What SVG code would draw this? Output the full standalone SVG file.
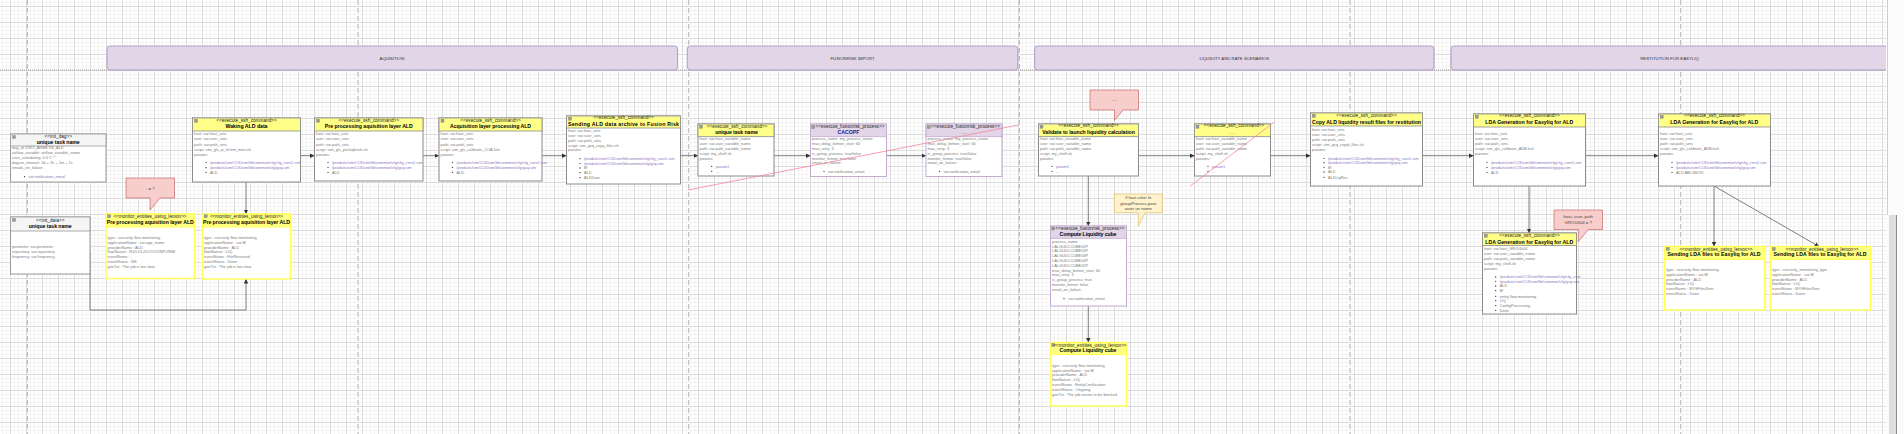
<svg xmlns="http://www.w3.org/2000/svg" width="1904" height="434" viewBox="0 0 1904 434">
<defs>
<pattern id="grid" x="10" y="6" width="16" height="16" patternUnits="userSpaceOnUse">
<rect width="16" height="16" fill="#fff"/>
<path d="M4.5 0V16M8.5 0V16M12.5 0V16M0 4.5H16M0 8.5H16M0 12.5H16" stroke="#f3f3f3" stroke-width="1"/>
<path d="M0.5 0V16M0 0.5H16" stroke="#dcdcdc" stroke-width="1"/>
</pattern>
<marker id="ar" viewBox="0 0 6 6" refX="6" refY="3" markerWidth="4.5" markerHeight="4.5" markerUnits="userSpaceOnUse" orient="auto">
<path d="M0,0 L6,3 L0,6 z" fill="#333"/>
</marker>
<style>
text{font-family:"Liberation Sans",Arial,sans-serif}
.st{font-size:4.7px;fill:#222;text-anchor:middle}
.tt{font-size:5.2px;font-weight:bold;fill:#000;text-anchor:middle}
.bd{font-size:3.9px;fill:#7a7a7a}
.bl{font-size:3.9px;fill:#8b74b5}
.hd{font-size:4.3px;fill:#333;text-anchor:middle}
.co{font-size:4.3px;fill:#444;text-anchor:middle}
.sb{fill:#fff;stroke:#8c8c8c;stroke-width:1}
.sh{fill:#ffff88;stroke:#8c8c8c;stroke-width:0.8}
.mb{fill:#fff;stroke:#ffff55;stroke-width:1.4}
.mh{fill:#ffff80;stroke:#ffff55;stroke-width:1}
.fb{fill:#fff;stroke:#c3abd0;stroke-width:1}
.fh{fill:#e1d5e7;stroke:#c3abd0;stroke-width:0.8}
.ib{fill:#fff;stroke:#9a9a9a;stroke-width:1}
.ih{fill:#f5f5f5;stroke:#9a9a9a;stroke-width:0.8}
.ic{fill:#9a9a9a;stroke:#666;stroke-width:0.3}
.dt{fill:#333}
.cn{fill:none;stroke:#7f7f7f;stroke-width:1;marker-end:url(#ar)}
.lane{fill:#e1d5e7;stroke:#a58fbd;stroke-width:0.8}
.vd{stroke:#a0a0a0;stroke-width:0.8;stroke-dasharray:5 3}
.pk{stroke:#f4859a;stroke-width:0.8;fill:none}
.cp{fill:#f8cecc;stroke:#b85450;stroke-width:0.6}
.cy{fill:#fff2cc;stroke:#d6b656;stroke-width:0.6}
</style>
</defs>

<rect x="0" y="0" width="1886" height="434" fill="url(#grid)"/>

<g id="guides">
<line class="vd" x1="27.3" y1="0" x2="27.3" y2="434"/>
<line class="vd" x1="358" y1="0" x2="358" y2="434"/>
<line class="vd" x1="688.7" y1="0" x2="688.7" y2="434"/>
<line class="vd" x1="1019.3" y1="0" x2="1019.3" y2="434"/>
<line class="vd" x1="1350" y1="0" x2="1350" y2="434"/>
<line class="vd" x1="1680.7" y1="0" x2="1680.7" y2="434"/>
<line x1="0" y1="70" x2="1886" y2="70" stroke="#8a8a8a" stroke-width="0.8" stroke-dasharray="1 1"/>
</g>

<g id="lanes">
<rect class="lane" x="107" y="46" width="570.5" height="24" rx="3"/>
<text class="hd" x="392" y="59.5">AQUISITION</text>
<rect class="lane" x="687.3" y="46" width="330.5" height="24" rx="3"/>
<text class="hd" x="852.5" y="59.5">FUSIONRISK IMPORT</text>
<rect class="lane" x="1034.6" y="46" width="399.4" height="24" rx="3"/>
<text class="hd" x="1234.3" y="59.5">LIQUIDITY AND RATE SCENARIOS</text>
<rect class="lane" x="1451" y="46" width="445" height="24" rx="3"/>
<text class="hd" x="1669.5" y="59.5">RESTITUTION FOR EASYLIQ</text>
</g>

<g id="connectors">
<path class="cn" d="M300.5,155.7 H314.5"/>
<path class="cn" d="M423,155.7 H439"/>
<path class="cn" d="M542,155.7 H566.5"/>
<path class="cn" d="M680.5,155.7 H698"/>
<path class="cn" d="M774,155.7 H810.5"/>
<path class="cn" d="M886.5,155.7 H926"/>
<path class="cn" d="M1138.5,155.7 H1194.5"/>
<path class="cn" d="M1270.5,155.7 H1310.5"/>
<path class="cn" d="M1422.5,155.7 H1473.5"/>
<path class="cn" d="M1585.5,155.7 H1658.5"/>
<path class="cn" d="M1529,186 V233"/>
<path class="cn" d="M1714,186 V246.5"/>
<path class="cn" d="M1714,186 L1819,246.5"/>
<path class="cn" d="M246,182 V214"/>
<path class="cn" d="M90,252 V310 H246 V279"/>
<path class="cn" d="M1088.3,176 V226"/>
<path class="cn" d="M1088.3,306 V342.5"/>
</g>

<g id="n1">
<rect class="ib" x="10.5" y="134" width="95.5" height="48"/>
<rect class="ih" x="10.5" y="134" width="95.5" height="12"/>
<rect class="ic" x="12.5" y="135.5" width="3" height="3"/>
<text class="st" x="58.25" y="138.2">&lt;&lt;init_dag&gt;&gt;</text>
<text class="tt" x="58.25" y="144.3" textLength="43" lengthAdjust="spacing">unique task name</text>
<text class="bd" x="12" y="149.4">dag_id: DRO_ARMETIS_ALD</text>
<text class="bd" x="12" y="154.4">airflow_variable: airflow_variable_name</text>
<text class="bd" x="12" y="159.4">cron_scheduling: 0 0 1 * *</text>
<text class="bd" x="12" y="164.4">dagrun_timeout: 1d + 1h + 1m + 1s</text>
<text class="bd" x="12" y="169.4">emails_on_failure:</text>
<circle class="dt" cx="24.5" cy="176.7" r="0.65"/>
<text class="bl" x="28.5" y="178.1">var.notification_email</text>
</g>

<g id="n2">
<rect class="ib" x="10.5" y="217" width="79.5" height="57"/>
<rect class="ih" x="10.5" y="217" width="79.5" height="14"/>
<rect class="ic" x="12.5" y="218.5" width="3" height="3"/>
<text class="st" x="50.25" y="221.6">&lt;&lt;init_data&gt;&gt;</text>
<text class="tt" x="50.25" y="227.8" textLength="43" lengthAdjust="spacing">unique task name</text>
<text class="bd" x="12" y="248.1">perimeter: var.perimeter</text>
<text class="bd" x="12" y="253.1">repository: var.repository</text>
<text class="bd" x="12" y="258.1">frequency: var.frequency</text>
</g>

<g id="n3">
<rect class="mb" x="106" y="214" width="88.5" height="64.5"/>
<rect class="mh" x="106" y="214" width="88.5" height="13"/>
<rect class="ic" x="107.7" y="214.8" width="3" height="3"/>
<text class="st" x="150" y="217.8">&lt;&lt;monitor_entities_using_lemon&gt;&gt;</text>
<text class="tt" x="150.25" y="224" textLength="87" lengthAdjust="spacing">Pre processing aquisition layer ALD</text>
<text class="bd" x="107.5" y="239.1">type : sercurity flow monitoring</text>
<text class="bd" x="107.5" y="244.1">applicationName : var.app_name</text>
<text class="bd" x="107.5" y="248.7">providerName : ALD</text>
<text class="bd" x="107.5" y="253.4">flowNature : N1/L1/L2/LV1/V2/NPV/NM</text>
<text class="bd" x="107.5" y="258.1">eventName : -</text>
<text class="bd" x="107.5" y="263.1">eventStatus : NS</text>
<text class="bd" x="107.5" y="268.1">genTxt : The job is too slow</text>
</g>

<g id="n4">
<rect class="mb" x="202.5" y="214" width="88" height="65"/>
<rect class="mh" x="202.5" y="214" width="88" height="13"/>
<rect class="ic" x="204.2" y="214.8" width="3" height="3"/>
<text class="st" x="246.5" y="217.8">&lt;&lt;monitor_entities_using_lemon&gt;&gt;</text>
<text class="tt" x="246.5" y="224" textLength="87" lengthAdjust="spacing">Pre processing aquisition layer ALD</text>
<text class="bd" x="204" y="239.1">type : sercurity flow monitoring</text>
<text class="bd" x="204" y="244.1">applicationName : var.M</text>
<text class="bd" x="204" y="248.7">providerName : ALD</text>
<text class="bd" x="204" y="253.4">flowNature : LIQ</text>
<text class="bd" x="204" y="258.1">eventName : FileReceived</text>
<text class="bd" x="204" y="263.1">eventStatus : Done</text>
<text class="bd" x="204" y="268.1">genTxt : The job is too slow</text>
</g>

<g id="c1">
<path class="cp" d="M126,178 H174.5 V198 H160 L150,210 V198 H126 Z"/>
<text class="co" x="150.2" y="189.5">- = ?</text>
</g>

<g id="n5">
<rect class="sb" x="192.5" y="118" width="108" height="64"/>
<rect class="sh" x="192.5" y="118" width="108" height="13"/>
<rect class="ic" x="194.5" y="119.3" width="3" height="3"/>
<text class="st" x="246.5" y="121.5">&lt;&lt;execute_ssh_command&gt;&gt;</text>
<text class="tt" x="246.5" y="127.9" textLength="42" lengthAdjust="spacing">Waking ALD data</text>
<text class="bd" x="194" y="135.1">host: var.host_sets</text>
<text class="bd" x="194" y="140.4">user: var.user_sets</text>
<text class="bd" x="194" y="145.7">path: var.path_sets</text>
<text class="bd" x="194" y="151.1">script: sim_gls_w_itchim_mon.sh</text>
<text class="bd" x="194" y="156.4">params:</text>
<circle class="dt" cx="206" cy="162.3" r="0.65"/>
<text class="bl" x="210" y="163.7">/produits/sim/CODsim/lib/common/cfg/cfg_core1.sim</text>
<circle class="dt" cx="206" cy="167.7" r="0.65"/>
<text class="bl" x="210" y="169.1">/produits/sim/CODsim/lib/common/cfg/gsq.sim</text>
<circle class="dt" cx="206" cy="172.3" r="0.65"/>
<text class="bd" x="210" y="173.7">ALD</text>
</g>

<g id="n6">
<rect class="sb" x="314.5" y="118" width="108.5" height="63"/>
<rect class="sh" x="314.5" y="118" width="108.5" height="13"/>
<rect class="ic" x="316.5" y="119.3" width="3" height="3"/>
<text class="st" x="368.75" y="121.5">&lt;&lt;execute_ssh_command&gt;&gt;</text>
<text class="tt" x="368.75" y="127.9" textLength="88" lengthAdjust="spacing">Pre processing aquisition layer ALD</text>
<text class="bd" x="316" y="135.1">host: var.host_sets</text>
<text class="bd" x="316" y="140.4">user: var.user_sets</text>
<text class="bd" x="316" y="145.7">path: var.path_sets</text>
<text class="bd" x="316" y="151.1">script: sim_gls_pre/aqfresh.sh</text>
<text class="bd" x="316" y="156.4">params:</text>
<circle class="dt" cx="328" cy="162.3" r="0.65"/>
<text class="bl" x="332" y="163.7">/produits/sim/CODsim/lib/common/cfg/cfg_core1.sim</text>
<circle class="dt" cx="328" cy="167.3" r="0.65"/>
<text class="bl" x="332" y="168.7">/produits/sim/CODsim/lib/common/cfg/gsq.sim</text>
<circle class="dt" cx="328" cy="172.3" r="0.65"/>
<text class="bd" x="332" y="173.7">ALD</text>
</g>

<g id="n7">
<rect class="sb" x="439" y="118" width="103" height="63"/>
<rect class="sh" x="439" y="118" width="103" height="13"/>
<rect class="ic" x="441" y="119.3" width="3" height="3"/>
<text class="st" x="490.5" y="121.5">&lt;&lt;execute_ssh_command&gt;&gt;</text>
<text class="tt" x="490.5" y="127.9" textLength="81" lengthAdjust="spacing">Acquisition layer processing ALD</text>
<text class="bd" x="440.5" y="135.1">host: var.host_sets</text>
<text class="bd" x="440.5" y="140.4">user: var.user_sets</text>
<text class="bd" x="440.5" y="145.7">path: var.path_sets</text>
<text class="bd" x="440.5" y="151.1">script: sim_gls_calibrate_COA.ksh</text>
<text class="bd" x="440.5" y="156.4">params:</text>
<circle class="dt" cx="452.5" cy="162.3" r="0.65"/>
<text class="bl" x="456.5" y="163.7">/produits/sim/CODsim/lib/common/cfg/cfg_core1.sim</text>
<circle class="dt" cx="452.5" cy="167.3" r="0.65"/>
<text class="bl" x="456.5" y="168.7">/produits/sim/CODsim/lib/common/cfg/gsq.sim</text>
<circle class="dt" cx="452.5" cy="172.3" r="0.65"/>
<text class="bd" x="456.5" y="173.7">ALD</text>
</g>

<g id="n8">
<rect class="sb" x="566.5" y="116" width="114" height="68"/>
<rect class="sh" x="566.5" y="116" width="114" height="12"/>
<rect class="ic" x="568.5" y="117.2" width="3" height="3"/>
<text class="st" x="623.5" y="119.1">&lt;&lt;execute_ssh_command&gt;&gt;</text>
<text class="tt" x="623.5" y="126.2" textLength="111" lengthAdjust="spacing">Sending ALD data archive to Fusion Risk</text>
<text class="bd" x="568" y="132.1">host: var.host_sets</text>
<text class="bd" x="568" y="136.7">user: var.user_sets</text>
<text class="bd" x="568" y="141.7">path: var.path_sets</text>
<text class="bd" x="568" y="146.7">script: sim_gsq_copy_files.sh</text>
<text class="bd" x="568" y="151.4">params:</text>
<circle class="dt" cx="580" cy="158.7" r="0.65"/>
<text class="bl" x="584" y="160.1">/produits/sim/CODsim/lib/common/cfg/cfg_core1.sim</text>
<circle class="dt" cx="580" cy="163.3" r="0.65"/>
<text class="bl" x="584" y="164.7">/produits/sim/CODsim/lib/common/cfg/gsq.sim</text>
<circle class="dt" cx="580" cy="168" r="0.65"/>
<text class="bd" x="584" y="169.4">M</text>
<circle class="dt" cx="580" cy="172.7" r="0.65"/>
<text class="bd" x="584" y="174.1">ALD</text>
<circle class="dt" cx="580" cy="177.7" r="0.65"/>
<text class="bd" x="584" y="179.1">ALDData</text>
</g>

<g id="n9">
<rect class="sb" x="698" y="124" width="76" height="52"/>
<rect class="sh" x="698" y="124" width="76" height="12.7"/>
<rect class="ic" x="699.5" y="125.2" width="3" height="3"/>
<text class="st" x="737" y="127.6">&lt;&lt;execute_ssh_command&gt;&gt;</text>
<text class="tt" x="736.5" y="134.2" textLength="42.7" lengthAdjust="spacing">unique task name</text>
<text class="bd" x="699.5" y="140.1">host: var.host_variable_name</text>
<text class="bd" x="699.5" y="144.7">user: var.user_variable_name</text>
<text class="bd" x="699.5" y="149.7">path: var.path_variable_name</text>
<text class="bd" x="699.5" y="154.7">script: my_shell.sh</text>
<text class="bd" x="699.5" y="159.7">params:</text>
<circle class="dt" cx="711.7" cy="166.3" r="0.65"/>
<text class="bl" x="716" y="167.7">param1</text>
<circle class="dt" cx="711.7" cy="171.3" r="0.65"/>
<text class="bd" x="716" y="172.7">...</text>
</g>

<g id="n10">
<rect class="fb" x="810.5" y="124" width="76" height="52.5"/>
<rect class="fh" x="810.5" y="124" width="76" height="12.7"/>
<rect class="ic" x="811.8" y="125.5" width="3" height="3"/>
<text class="st" x="850" y="127.6">&lt;&lt;execute_fusionrisk_process&gt;&gt;</text>
<text class="tt" x="848.5" y="134.2" style="fill:#1a1a8c">CACOPF</text>
<text class="bd" x="812" y="140.1">process_name: my_process_name</text>
<text class="bd" x="812" y="144.7">max_delay_before_start: 60</text>
<text class="bd" x="812" y="149.7">max_retry: 3</text>
<text class="bd" x="812" y="154.7">is_group_process: true/false</text>
<text class="bd" x="812" y="159.7">monitor_lemon: true/false</text>
<text class="bd" x="812" y="164.1">email_on_failure:</text>
<circle class="dt" cx="824" cy="171.3" r="0.65"/>
<text class="bd" x="828" y="172.7">var.notification_email</text>
</g>

<g id="n11">
<rect class="fb" x="926" y="124" width="76" height="52.5"/>
<rect class="fh" x="926" y="124" width="76" height="12.7"/>
<rect class="ic" x="927.3" y="125.5" width="3" height="3"/>
<text class="st" x="965.5" y="127.6">&lt;&lt;execute_fusionrisk_process&gt;&gt;</text>
<text x="964" y="134" style="font-size:3.8px;fill:#8a8a8a;text-anchor:middle">------</text>
<text class="bd" x="927.5" y="140.1">process_name: my_process_name</text>
<text class="bd" x="927.5" y="144.7">max_delay_before_start: 60</text>
<text class="bd" x="927.5" y="149.7">max_retry: 3</text>
<text class="bd" x="927.5" y="154.7">is_group_process: true/false</text>
<text class="bd" x="927.5" y="159.7">monitor_lemon: true/false</text>
<text class="bd" x="927.5" y="164.1">email_on_failure:</text>
<circle class="dt" cx="939.5" cy="171.3" r="0.65"/>
<text class="bd" x="943.5" y="172.7">var.notification_email</text>
</g>

<g id="n12">
<rect class="sb" x="1038.5" y="124" width="100" height="52"/>
<rect class="sh" x="1038.5" y="124" width="100" height="12.7"/>
<rect class="ic" x="1040" y="125.2" width="3" height="3"/>
<text class="st" x="1088.5" y="127.4">&lt;&lt;execute_ssh_command&gt;&gt;</text>
<text class="tt" x="1088.5" y="134.2" textLength="92.7" lengthAdjust="spacing">Validate to launch liquidity calculation</text>
<text class="bd" x="1040" y="139.7">host: var.host_variable_name</text>
<text class="bd" x="1040" y="144.7">user: var.user_variable_name</text>
<text class="bd" x="1040" y="149.7">path: var.path_variable_name</text>
<text class="bd" x="1040" y="154.7">script: my_shell.sh</text>
<text class="bd" x="1040" y="159.7">params:</text>
<circle class="dt" cx="1052" cy="166.3" r="0.65"/>
<text class="bl" x="1056" y="167.7">param1</text>
<circle class="dt" cx="1052" cy="171.3" r="0.65"/>
<text class="bd" x="1056" y="172.7">...</text>
</g>

<g id="c2">
<path class="cp" d="M1090,90 H1138.5 V110 H1123 L1114.5,120.5 V110 H1090 Z"/>
<text x="1114.2" y="101" style="font-size:3px;fill:#555;text-anchor:middle">------</text>
</g>

<g id="n13">
<rect class="sb" x="1194.5" y="124" width="76" height="52"/>
<rect class="sh" x="1194.5" y="124" width="76" height="12.7"/>
<rect class="ic" x="1196" y="125.2" width="3" height="3"/>
<text class="st" x="1234" y="127.4">&lt;&lt;execute_ssh_command&gt;&gt;</text>
<text x="1232.5" y="134" style="font-size:3.8px;fill:#c8943a;text-anchor:middle">------</text>
<text class="bd" x="1196" y="139.7">host: var.host_variable_name</text>
<text class="bd" x="1196" y="144.7">user: var.user_variable_name</text>
<text class="bd" x="1196" y="149.7">path: var.path_variable_name</text>
<text class="bd" x="1196" y="154.7">script: my_shell.sh</text>
<text class="bd" x="1196" y="159.7">params:</text>
<circle class="dt" cx="1208" cy="166.3" r="0.65"/>
<text class="bl" x="1212" y="167.7">param1</text>
<circle class="dt" cx="1208" cy="171.3" r="0.65"/>
<text class="bd" x="1212" y="172.7">...</text>
</g>

<g id="n14">
<rect class="sb" x="1310.5" y="113" width="112" height="73"/>
<rect class="sh" x="1310.5" y="113" width="112" height="13"/>
<rect class="ic" x="1312.3" y="114.3" width="3" height="3"/>
<text class="st" x="1366.5" y="117.4">&lt;&lt;execute_ssh_command&gt;&gt;</text>
<text class="tt" x="1366.5" y="124.2" textLength="109" lengthAdjust="spacing">Copy ALD liquidity result files for restitution</text>
<text class="bd" x="1312" y="131.4">host: var.host_sets</text>
<text class="bd" x="1312" y="136.4">user: var.user_sets</text>
<text class="bd" x="1312" y="141.4">path: var.path_sets</text>
<text class="bd" x="1312" y="146.4">script: sim_gsq_copyf_files.sh</text>
<text class="bd" x="1312" y="151.4">params:</text>
<circle class="dt" cx="1324" cy="158.3" r="0.65"/>
<text class="bl" x="1328" y="159.7">/produits/sim/CODsim/lib/common/cfg/cfg_core1.sim</text>
<circle class="dt" cx="1324" cy="162.7" r="0.65"/>
<text class="bl" x="1328" y="164.1">/produits/sim/CODsim/lib/common/cfg/gsq.sim</text>
<circle class="dt" cx="1324" cy="167.3" r="0.65"/>
<text class="bd" x="1328" y="168.7">M</text>
<circle class="dt" cx="1324" cy="172" r="0.65"/>
<text class="bd" x="1328" y="173.4">ALD</text>
<circle class="dt" cx="1324" cy="177.3" r="0.65"/>
<text class="bd" x="1328" y="178.7">ALDLiqRes</text>
</g>

<g id="n15">
<rect class="sb" x="1473.5" y="114" width="112" height="72"/>
<rect class="sh" x="1473.5" y="114" width="112" height="13"/>
<rect class="ic" x="1475.3" y="115.3" width="3" height="3"/>
<text class="st" x="1529.5" y="117.4">&lt;&lt;execute_ssh_command&gt;&gt;</text>
<text class="tt" x="1529.2" y="123.9" textLength="88" lengthAdjust="spacing">LDA Generation for Easyliq for ALD</text>
<text class="bd" x="1475" y="135.4">host: var.host_sets</text>
<text class="bd" x="1475" y="140.4">user: var.user_sets</text>
<text class="bd" x="1475" y="145.4">path: var.path_sets</text>
<text class="bd" x="1475" y="150.4">script: sim_gls_calibrate_ADB.ksh</text>
<text class="bd" x="1475" y="155.4">params:</text>
<circle class="dt" cx="1487" cy="162.3" r="0.65"/>
<text class="bl" x="1491" y="163.7">/produits/sim/CODsim/lib/common/cfg/cfg_core1.sim</text>
<circle class="dt" cx="1487" cy="167.3" r="0.65"/>
<text class="bl" x="1491" y="168.7">/produits/sim/CODsim/lib/common/cfg/gsq.sim</text>
<circle class="dt" cx="1487" cy="172.3" r="0.65"/>
<text class="bd" x="1491" y="173.7">ALD</text>
</g>

<g id="n16">
<rect class="sb" x="1658.5" y="114" width="112" height="72"/>
<rect class="sh" x="1658.5" y="114" width="112" height="13"/>
<rect class="ic" x="1660.3" y="115.3" width="3" height="3"/>
<text class="st" x="1714.5" y="117.4">&lt;&lt;execute_ssh_command&gt;&gt;</text>
<text class="tt" x="1714.2" y="123.9" textLength="88" lengthAdjust="spacing">LDA Generation for Easyliq for ALD</text>
<text class="bd" x="1660" y="135.4">host: var.host_sets</text>
<text class="bd" x="1660" y="140.4">user: var.user_sets</text>
<text class="bd" x="1660" y="145.4">path: var.path_sets</text>
<text class="bd" x="1660" y="150.4">script: sim_gls_calibrate_ADB.ksh</text>
<text class="bd" x="1660" y="155.4">params:</text>
<circle class="dt" cx="1672" cy="162.3" r="0.65"/>
<text class="bl" x="1676" y="163.7">/produits/sim/CODsim/lib/common/cfg/cfg_core1.sim</text>
<circle class="dt" cx="1672" cy="167.3" r="0.65"/>
<text class="bl" x="1676" y="168.7">/produits/sim/CODsim/lib/common/cfg/gsq.sim</text>
<circle class="dt" cx="1672" cy="172.3" r="0.65"/>
<text class="bd" x="1676" y="173.7">ALD ABL360YD</text>
</g>

<g id="n17">
<rect class="sb" x="1482.5" y="233" width="94" height="81"/>
<rect class="sh" x="1482.5" y="233" width="94" height="12.5"/>
<rect class="ic" x="1484.3" y="234.2" width="3" height="3"/>
<text class="st" x="1529.5" y="237">&lt;&lt;execute_ssh_command&gt;&gt;</text>
<text class="tt" x="1529.2" y="243.6" textLength="88" lengthAdjust="spacing">LDA Generation for Easyliq for ALD</text>
<text class="bd" x="1484" y="249.7">host: var.host_GROU004</text>
<text class="bd" x="1484" y="254.7">user: var.user_variable_name</text>
<text class="bd" x="1484" y="259.7">path: var.path_variable_name</text>
<text class="bd" x="1484" y="264.7">script: my_shell.sh</text>
<text class="bd" x="1484" y="269.7">params:</text>
<circle class="dt" cx="1495.7" cy="277" r="0.65"/>
<text class="bl" x="1499.7" y="278.4">/produits/sim/CODsim/lib/common/cfg/cfg_core</text>
<circle class="dt" cx="1495.7" cy="281.3" r="0.65"/>
<text class="bl" x="1499.7" y="282.7">/produits/sim/CODsim/lib/common/cfg/gsq.sim</text>
<circle class="dt" cx="1495.7" cy="286" r="0.65"/>
<text class="bd" x="1499.7" y="287.4">ALD</text>
<circle class="dt" cx="1495.7" cy="290.7" r="0.65"/>
<text class="bd" x="1499.7" y="292.1">M</text>
<circle class="dt" cx="1495.7" cy="296.3" r="0.65"/>
<text class="bd" x="1499.7" y="297.7">entity flow monitoring</text>
<circle class="dt" cx="1495.7" cy="300.7" r="0.65"/>
<text class="bd" x="1499.7" y="302.1">LIQ</text>
<circle class="dt" cx="1495.7" cy="305.7" r="0.65"/>
<text class="bd" x="1499.7" y="307.1">ConfigProcessing</text>
<circle class="dt" cx="1495.7" cy="310.3" r="0.65"/>
<text class="bd" x="1499.7" y="311.7">Done</text>
</g>

<g id="c3">
<path class="cp" d="M1554,210 H1602.5 V229.5 H1588.3 L1578.3,241.7 V229.5 H1554 Z"/>
<text class="co" x="1578.3" y="218">host, user, path</text>
<text class="co" x="1578.3" y="223.8">GROU004 = ?</text>
</g>

<g id="n18">
<rect class="mb" x="1664.5" y="246.5" width="100" height="63.5"/>
<rect class="mh" x="1664.5" y="246.5" width="100" height="13"/>
<rect class="ic" x="1666.3" y="247.5" width="3" height="3"/>
<text class="st" x="1716" y="250.6">&lt;&lt;monitor_entities_using_lemon&gt;&gt;</text>
<text class="tt" x="1714" y="255.8" textLength="93" lengthAdjust="spacing">Sending LDA files to Easyliq for ALD</text>
<text class="bd" x="1666" y="271.4">type : sercurity flow monitoring</text>
<text class="bd" x="1666" y="276.1">applicationName : var.M</text>
<text class="bd" x="1666" y="280.7">providerName : ALD</text>
<text class="bd" x="1666" y="285.4">flowNature : LIQ</text>
<text class="bd" x="1666" y="290.1">eventName : BYGFilesSent</text>
<text class="bd" x="1666" y="295.1">eventStatus : Done</text>
</g>

<g id="n19">
<rect class="mb" x="1770.5" y="246.5" width="100" height="63.5"/>
<rect class="mh" x="1770.5" y="246.5" width="100" height="13"/>
<rect class="ic" x="1772.3" y="247.5" width="3" height="3"/>
<text class="st" x="1822" y="250.6">&lt;&lt;monitor_entities_using_lemon&gt;&gt;</text>
<text class="tt" x="1820" y="255.8" textLength="93" lengthAdjust="spacing">Sending LDA files to Easyliq for ALD</text>
<text class="bd" x="1772" y="271.4">type : sercurity_monitoring_type</text>
<text class="bd" x="1772" y="276.1">applicationName : var.M</text>
<text class="bd" x="1772" y="280.7">providerName : ALD</text>
<text class="bd" x="1772" y="285.4">flowNature : LIQ</text>
<text class="bd" x="1772" y="290.1">eventName : BYGFilesSent</text>
<text class="bd" x="1772" y="295.1">eventStatus : Done</text>
</g>

<g id="c4">
<path class="cy" d="M1114.3,194 H1162.3 V212.7 H1145 L1138.3,226 V212.7 H1114.3 Z"/>
<text class="co" x="1138.3" y="198.8">Il faut créer le</text>
<text class="co" x="1138.3" y="204.5">groupProcess pour</text>
<text class="co" x="1138.3" y="210.2">avoir un name</text>
</g>

<g id="n20">
<rect class="fb" x="1050.5" y="226" width="76" height="80"/>
<rect class="fh" x="1050.5" y="226" width="76" height="12.3"/>
<rect class="ic" x="1051.8" y="227" width="3" height="3"/>
<text class="st" x="1090" y="229.7">&lt;&lt;execute_fusionrisk_process&gt;&gt;</text>
<text class="tt" x="1088" y="235.9" textLength="57" lengthAdjust="spacing">Compute Liquidity cube</text>
<text class="bd" x="1052" y="243.1">process_name:</text>
<text class="bd" x="1052" y="247.7">LALGUDCCUBE01P</text>
<text class="bd" x="1052" y="252.4">LALGUDCCUBE02P</text>
<text class="bd" x="1052" y="257.1">LALGUDCCUBE03P</text>
<text class="bd" x="1052" y="261.7">LALGUDCCUBE04P</text>
<text class="bd" x="1052" y="266.7">LALGUDCCUBE05P</text>
<text class="bd" x="1052" y="271.7">max_delay_before_start: 60</text>
<text class="bd" x="1052" y="276.4">max_retry: 3</text>
<text class="bd" x="1052" y="281.1">is_group_process: true</text>
<text class="bd" x="1052" y="286.1">monitor_lemon: false</text>
<text class="bd" x="1052" y="290.7">email_on_failure:</text>
<circle class="dt" cx="1064" cy="298.7" r="0.65"/>
<text class="bd" x="1068.3" y="300.1">var.notification_email</text>
</g>

<g id="n21">
<rect class="mb" x="1050.5" y="342.5" width="76" height="63.5"/>
<rect class="mh" x="1050.5" y="342.5" width="76" height="12"/>
<rect class="ic" x="1051.8" y="343.5" width="3" height="3"/>
<text class="st" x="1090" y="347">&lt;&lt;monitor_entities_using_lemon&gt;&gt;</text>
<text class="tt" x="1088" y="352" textLength="57" lengthAdjust="spacing">Compute Liquidity cube</text>
<text class="bd" x="1052" y="367.1">type : sercurity flow monitoring</text>
<text class="bd" x="1052" y="371.7">applicationName : var.M</text>
<text class="bd" x="1052" y="375.7">providerName : ALD</text>
<text class="bd" x="1052" y="380.7">flowNature : LIQ</text>
<text class="bd" x="1052" y="385.7">eventName : EntityCertification</text>
<text class="bd" x="1052" y="391.1">eventStatus : Ongoing</text>
<text class="bd" x="1052" y="396.1">genTxt : The job seems to be blocked</text>
</g>

<g id="strikes">
<line class="pk" x1="688" y1="190" x2="1018.5" y2="125"/>
<line class="pk" x1="1190.3" y1="186" x2="1275" y2="121.5"/>
</g>

<g id="scrollbar">
<rect x="1886" y="0" width="18" height="434" fill="#fbfbfb"/>
<line x1="1887.5" y1="0" x2="1887.5" y2="215" stroke="#cfcfcf" stroke-width="1"/>
<rect x="1889" y="215" width="8" height="219" fill="#dedede"/>
<line x1="1896.5" y1="215" x2="1896.5" y2="434" stroke="#8a8a8a" stroke-width="1"/>
</g>
</svg>
